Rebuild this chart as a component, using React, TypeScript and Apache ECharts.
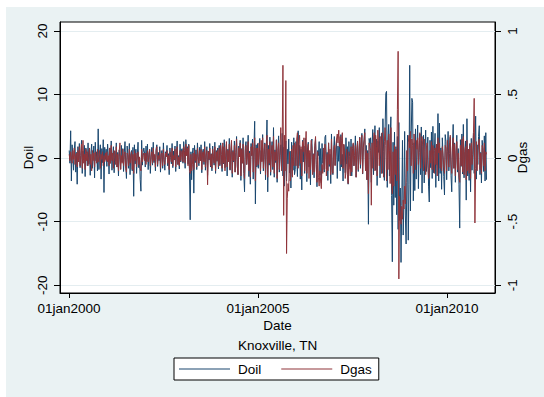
import React, { useEffect, useRef } from 'react';
import * as echarts from 'echarts';

// Weekly observations start on Monday 3 Jan 2000
const startDate = Date.UTC(2000, 0, 3);
const weekMs = 7 * 86400000;

const doil2000 = [1.2, -0.8, 4.3, -3.6, 2.1, 0.5, -1.9, 1.4, 2.6, -2.2, 0.9, -4.1, 1.8, -0.6, 2.3, -1.5, 0.4, 2.8, -2.4, 1.1, -0.3, 2.0, -2.9, 1.6, 0.7, -1.2, 2.4, -0.9, 1.3, -2.7, 0.8, 2.2, -1.6, 0.3, 1.9, -3.1, 2.5, -0.4, 1.0, -2.0, 4.6, -1.8, 0.6, 2.1, -3.3, 1.5, -0.7, 2.9, -5.4, 1.7, -0.2, 1.4];
const doil2001 = [-1.3, 2.2, 0.4, -2.5, 1.6, -0.8, 2.7, -1.9, 0.3, 1.8, -2.3, 1.1, -0.5, 2.4, -1.4, 0.9, -2.8, 1.3, 0.2, -1.7, 2.0, -0.6, 1.5, -2.1, 0.8, 2.6, -1.0, -3.2, 1.9, 0.5, -1.6, 2.3, -2.6, 0.7, 1.2, -2.0, 1.7, -6.0, 2.1, -0.9, 1.4, -2.4, 0.6, 2.5, -1.5, 0.1, -3.4, -5.2, 2.8, -1.1, 0.9, 1.6];
const doil2002 = [0.8, -1.4, 1.9, -0.5, 2.2, -1.8, 0.6, 1.3, -2.4, 0.2, 1.7, -1.1, 2.5, -0.7, 0.4, -2.0, 1.5, 2.1, -1.3, 0.9, -0.4, 1.8, -2.2, 0.5, 1.2, -1.6, 2.4, -0.2, -1.9, 1.0, 0.3, 2.0, -1.2, 0.7, -2.6, 1.6, 0.1, -0.9, 2.3, -1.5, 1.1, -0.3, 1.9, -2.1, 0.6, 2.7, -1.0, 0.4, -1.7, 2.2, -0.6, 1.4];
const doil2003 = [1.5, -0.8, 2.6, 1.2, -1.6, 2.9, 0.4, 1.8, -0.9, 2.2, -2.1, -9.7, 1.0, -3.4, 0.8, 1.6, -5.5, 2.0, -0.7, 1.3, -1.8, 2.4, 0.2, -1.2, 1.7, -0.4, 2.1, -2.3, 0.9, 1.4, -1.0, 2.6, -1.9, 0.5, 1.8, -2.7, 1.1, -0.3, 2.3, -1.4, 0.7, -2.0, 1.9, 0.3, -1.1, 2.5, -2.4, 1.2, -0.5, 1.6, -1.7, 2.0];
const doil2004 = [-1.2, 2.4, 0.6, -2.1, 1.8, -0.9, 2.9, -1.5, 0.3, 2.2, -2.8, 1.4, -0.4, 3.1, -1.9, 0.8, 2.5, -3.0, 1.2, -0.6, 2.7, -2.2, 0.9, 3.4, -1.3, -2.6, 1.9, 0.2, 2.8, -3.5, 1.5, -0.8, 3.2, -2.4, -5.3, 1.7, 2.6, -1.0, 0.5, 3.6, -2.9, 1.1, -4.1, 2.3, 0.4, 3.0, -3.3, 1.8, 5.8, -7.2, 2.1, -1.4];
const doil2005 = [2.3, -1.6, 0.8, 3.1, -2.5, 1.2, -0.4, 3.7, -2.0, 0.6, 2.4, -3.4, 1.5, 6.0, -5.3, 2.0, -1.1, 3.3, -2.7, 0.9, 2.6, -1.8, 4.8, -3.0, 1.3, -0.7, 2.9, -3.8, 1.0, 3.5, -2.2, 0.4, 2.1, -1.5, 3.9, -2.8, 1.7, -4.4, 0.6, 2.7, -3.6, 1.4, -0.9, 3.0, -2.3, 1.1, -4.7, 2.5, 0.3, -1.9, 3.2, -2.6];
const doil2006 = [-1.8, 2.6, 0.5, -2.9, 4.3, -1.2, 2.0, -3.3, 1.4, -5.0, 2.8, -0.6, 1.9, -2.4, 3.1, 0.2, -3.7, 1.6, 2.5, -1.4, 0.8, -4.2, 2.2, 3.0, -2.0, 0.7, -3.1, 1.8, 2.9, -1.0, -4.5, 1.2, 0.4, 2.6, -2.7, 1.5, -3.9, 2.3, -0.8, 1.1, -2.2, 3.3, 3.6, -1.7, 0.9, -3.5, 2.4, -1.3, 0.6, -4.0, 3.8, -2.1];
const doil2007 = [-2.6, 1.3, 3.4, -1.1, 0.7, 2.8, -3.2, 1.9, -0.5, 2.5, -2.0, 3.7, -1.4, 0.6, -3.6, 2.1, 1.0, -2.3, 3.2, -0.9, 1.8, -4.1, 2.6, 0.3, -1.7, 3.0, -2.8, 1.5, 2.2, -1.2, 0.4, 3.5, -3.0, 1.1, 2.7, -2.1, 0.8, 3.3, -1.6, 2.4, 3.9, -2.5, 1.7, 2.9, 4.6, -1.9, 2.0, -3.4, 1.2, -10.4, 3.1, 2.3];
const doil2008 = [3.2, -3.8, 2.1, 4.5, -2.6, 1.4, 5.1, -1.9, 3.0, -4.3, 2.7, 0.9, 4.8, -3.1, 1.6, 3.9, -2.4, 6.2, 1.1, -3.5, 4.4, 10.2, 10.5, -4.6, 2.9, 5.3, -2.8, 3.6, 6.5, -5.9, -16.3, 2.5, -7.4, 4.1, -6.2, 1.8, -8.9, 3.4, -11.2, 5.6, -9.8, -4.7, -16.4, -7.5, 2.8, -12.1, -6.3, 4.2, -9.1, -13.5, -3.8, 3.6];
const doil2009 = [-12.9, -4.2, 14.6, -8.3, 3.1, 9.4, 8.8, -6.7, 2.4, -5.1, 4.6, -3.3, 1.7, 5.2, -4.8, 0.9, 3.8, -2.6, 4.9, -5.5, 2.2, 3.6, -3.9, 1.3, 4.4, -2.1, 0.6, 3.3, -4.4, -6.9, 2.8, -1.5, 4.1, -3.2, 5.0, -2.3, 1.2, 3.9, -4.6, 2.0, -1.1, 7.0, -3.6, 5.5, -2.4, 1.6, -4.9, 3.2, 0.5, -2.9, -5.8, 3.7];
const doil2010 = [2.6, -3.4, 1.1, 4.2, -2.0, 0.7, 3.3, -2.7, -5.3, 1.9, 5.3, -1.6, 2.4, -3.8, 0.8, 3.6, -2.2, 1.5, -4.1, -11.0, 2.9, -1.3, 3.8, -2.5, 5.3, -3.1, 1.0, 2.7, -6.6, 6.2, -2.8, 1.4, -3.5, 2.3, -5.3, 3.1, -1.9, 0.6, 4.0, -2.4, 1.7, 6.6, -3.3, 2.1, -1.0, 3.4, 5.1, -2.6, 0.9, -3.9, 2.8, 1.2, -2.1, 3.5, -3.6, 4.0, -3.4];

const dgas2000 = [0.03, -0.02, 0.05, 0.01, -0.04, 0.06, -0.01, 0.08, -0.05, 0.02, 0.04, -0.07, 0.06, -0.03, 0.09, -0.06, 0.02, 0.11, -0.08, 0.14, -0.04, 0.03, -0.09, 0.07, -0.02, 0.05, -0.06, 0.01, 0.08, -0.05, 0.03, -0.1, 0.06, -0.02, 0.04, -0.07, 0.05, 0.02, -0.04, 0.07, -0.03, 0.01, 0.06, -0.08, 0.03, -0.01, 0.05, -0.06, 0.02, -0.03, 0.04, -0.02];
const dgas2001 = [0.05, -0.03, 0.02, -0.06, 0.08, -0.04, 0.1, -0.02, 0.04, -0.08, 0.06, 0.01, -0.05, 0.09, -0.07, 0.03, -0.1, 0.05, 0.12, -0.09, 0.02, -0.04, 0.07, -0.06, 0.03, 0.05, -0.08, -0.11, 0.04, 0.02, -0.06, 0.07, -0.04, 0.01, 0.05, -0.09, 0.03, -0.12, 0.06, -0.02, 0.04, -0.07, 0.02, 0.05, -0.05, 0.01, -0.08, -0.1, 0.07, -0.03, 0.02, 0.04];
const dgas2002 = [-0.02, 0.04, -0.05, 0.03, 0.06, -0.03, 0.02, 0.07, -0.06, 0.01, 0.05, -0.04, 0.08, -0.02, 0.03, -0.07, 0.06, 0.09, -0.05, 0.02, -0.01, 0.06, -0.08, 0.03, 0.04, -0.06, 0.07, -0.02, -0.05, 0.04, 0.01, 0.06, -0.04, 0.02, -0.09, 0.05, 0.03, -0.03, 0.08, -0.06, 0.02, -0.01, 0.07, -0.07, 0.04, 0.09, -0.05, 0.01, -0.06, 0.06, -0.02, 0.03];
const dgas2003 = [0.06, -0.03, 0.09, 0.05, -0.04, 0.11, 0.02, 0.08, -0.06, 0.1, -0.08, -0.12, 0.03, -0.1, -0.05, 0.04, -0.09, 0.06, -0.02, 0.03, -0.07, 0.08, 0.01, -0.04, 0.06, -0.02, 0.07, -0.09, 0.04, 0.05, -0.03, 0.09, -0.07, 0.02, 0.06, -0.21, 0.05, -0.01, 0.08, -0.06, 0.03, -0.08, 0.07, 0.01, -0.04, 0.09, -0.1, 0.05, -0.02, 0.06, -0.07, 0.08];
const dgas2004 = [-0.05, 0.1, 0.03, -0.08, 0.12, -0.04, 0.09, -0.1, 0.02, 0.13, -0.07, 0.06, -0.03, 0.11, -0.09, 0.04, 0.14, -0.12, 0.05, -0.02, 0.1, -0.11, 0.03, 0.15, -0.06, -0.13, 0.08, 0.01, 0.12, -0.14, 0.07, -0.04, 0.11, -0.09, -0.16, 0.06, 0.1, -0.05, 0.02, 0.13, -0.1, 0.04, -0.15, 0.09, 0.02, 0.12, -0.11, 0.07, 0.16, -0.18, 0.08, -0.06];
const dgas2005 = [0.08, -0.05, 0.12, 0.04, -0.1, 0.14, -0.03, 0.16, -0.08, 0.06, 0.11, -0.13, 0.09, 0.18, -0.15, 0.07, -0.04, 0.13, -0.11, 0.03, 0.1, -0.07, 0.17, -0.12, 0.05, -0.02, 0.14, -0.16, 0.06, 0.12, -0.09, 0.08, 0.24, -0.1, 0.15, 0.73, -0.45, 0.18, -0.1, 0.61, -0.75, -0.32, -0.2, -0.26, 0.05, -0.18, -0.12, 0.07, -0.15, 0.1, -0.06, 0.12];
const dgas2006 = [0.1, -0.06, 0.15, 0.2, -0.08, 0.12, 0.18, -0.04, 0.09, -0.14, 0.13, 0.05, 0.16, -0.1, 0.07, 0.21, -0.12, 0.04, 0.11, -0.16, 0.06, -0.09, 0.14, 0.08, -0.13, 0.03, -0.11, 0.1, 0.17, -0.07, -0.19, 0.05, -0.15, -0.22, -0.1, -0.18, -0.24, -0.05, -0.12, 0.08, -0.09, 0.11, 0.06, -0.14, 0.03, -0.1, 0.12, -0.05, 0.07, -0.13, 0.15, -0.08];
const dgas2007 = [-0.12, 0.04, 0.1, -0.06, 0.08, 0.15, 0.19, 0.12, 0.22, 0.09, 0.17, -0.05, 0.14, 0.2, -0.08, 0.11, 0.06, -0.16, -0.1, 0.07, -0.13, -0.2, 0.05, -0.07, -0.14, 0.09, -0.11, 0.04, 0.12, -0.06, 0.02, 0.1, -0.15, 0.06, 0.13, -0.09, 0.03, 0.16, -0.05, 0.11, 0.18, -0.12, 0.08, 0.14, 0.2, -0.1, 0.06, -0.17, 0.04, -0.28, 0.12, 0.09];
const dgas2008 = [0.06, -0.37, 0.12, -0.08, 0.15, 0.2, -0.1, 0.18, 0.09, -0.14, 0.22, 0.11, -0.06, 0.16, 0.17, -0.12, 0.2, 0.08, -0.15, 0.13, 0.24, 0.1, -0.18, 0.14, -0.09, 0.19, 0.06, -0.2, 0.24, -0.16, -0.28, 0.05, -0.22, 0.1, -0.13, 0.07, -0.18, 0.38, 0.84, -0.95, -0.3, -0.45, -0.52, -0.38, -0.48, -0.33, -0.4, -0.22, -0.36, -0.15, 0.06, -0.1];
const dgas2009 = [0.12, 0.18, 0.08, 0.21, -0.06, 0.15, 0.1, -0.12, 0.19, 0.04, -0.09, 0.14, 0.07, 0.16, -0.05, 0.11, 0.2, -0.08, 0.13, 0.17, 0.09, -0.1, 0.15, 0.05, -0.13, 0.08, 0.12, -0.07, -0.16, -0.11, 0.06, -0.04, 0.13, -0.09, 0.1, 0.03, -0.12, 0.08, -0.05, 0.11, -0.14, 0.16, 0.04, 0.12, -0.08, 0.06, -0.1, 0.09, 0.02, -0.06, -0.12, 0.1];
const dgas2010 = [0.08, -0.1, 0.14, 0.05, -0.07, 0.12, 0.18, -0.05, -0.12, 0.09, 0.16, -0.08, 0.11, -0.14, 0.06, 0.13, -0.09, 0.04, -0.15, -0.19, 0.1, -0.06, 0.15, -0.11, 0.17, -0.13, 0.05, 0.09, -0.17, 0.14, -0.1, 0.07, -0.12, 0.1, -0.16, 0.12, -0.05, 0.03, 0.2, 0.47, -0.51, -0.08, 0.13, -0.1, 0.06, 0.11, 0.15, -0.09, 0.04, -0.12, 0.1, 0.07, -0.06, 0.12, -0.1, 0.05, 0.03];

const leftTicks = [-20, -10, 0, 10, 20];
const rightTicks = [-1, -0.5, 0, 0.5, 1];
const dateTicks = [Date.UTC(2000, 0, 1), Date.UTC(2005, 0, 1), Date.UTC(2010, 0, 1)];
const monthNames = ['jan', 'feb', 'mar', 'apr', 'may', 'jun', 'jul', 'aug', 'sep', 'oct', 'nov', 'dec'];

const doil = [
  ...doil2000, ...doil2001, ...doil2002, ...doil2003, ...doil2004, ...doil2005,
  ...doil2006, ...doil2007, ...doil2008, ...doil2009, ...doil2010,
];
const dgas = [
  ...dgas2000, ...dgas2001, ...dgas2002, ...dgas2003, ...dgas2004, ...dgas2005,
  ...dgas2006, ...dgas2007, ...dgas2008, ...dgas2009, ...dgas2010,
];
const dates = doil.map((_, i) => startDate + i * weekMs);

const FONT = '"Liberation Sans", Arial, sans-serif';

function fmtDate(v: number): string {
  const d = new Date(v);
  return String(d.getUTCDate()).padStart(2, '0') + monthNames[d.getUTCMonth()] + d.getUTCFullYear();
}
function fmtRight(v: number): string {
  if (v === 0) return '0';
  return String(v).replace(/^(-?)0\./, '$1.');
}

export default function App() {
  const ref = useRef<HTMLDivElement>(null);
  useEffect(() => {
    if (!ref.current) return;
    const chart = echarts.init(ref.current, null, { renderer: 'svg' });
    chart.setOption({
      animation: false,
      textStyle: { fontFamily: FONT },
      grid: {
        left: 60, right: 49, top: 22, bottom: 104,
        show: true, backgroundColor: '#ffffff', borderColor: '#000', borderWidth: 1,
      },
      xAxis: {
        type: 'value',
        min: Date.UTC(1999, 9, 6),
        max: Date.UTC(2011, 3, 9),
        name: 'Date',
        nameLocation: 'middle',
        nameGap: 25,
        nameMoveOverlap: false,
        nameTextStyle: { fontSize: 13.5, color: '#000', fontFamily: FONT },
        axisLine: { show: true, onZero: false, lineStyle: { color: '#000', width: 1 } },
        axisTick: { show: true, length: 5, customValues: dateTicks, lineStyle: { color: '#000' } },
        axisLabel: { customValues: dateTicks, formatter: fmtDate, margin: 8, fontSize: 13.5, color: '#000', fontFamily: FONT },
        splitLine: { show: false },
      },
      yAxis: [
        {
          type: 'value', position: 'left', min: -21.21, max: 21.41,
          name: 'Doil', nameLocation: 'middle', nameRotate: 90, nameGap: 25, nameMoveOverlap: false,
          nameTextStyle: { fontSize: 13.5, color: '#000', fontFamily: FONT },
          axisLine: { show: true, onZero: false, lineStyle: { color: '#000', width: 1 } },
          axisTick: { show: true, length: 6, customValues: leftTicks, lineStyle: { color: '#000' } },
          axisLabel: { customValues: leftTicks, rotate: 90, margin: 11, fontSize: 13.5, color: '#000', fontFamily: FONT },
          splitLine: { show: true, lineStyle: { color: '#e4edf0', width: 1 } },
        },
        {
          type: 'value', position: 'right', min: -1.0605, max: 1.0705,
          name: 'Dgas', nameLocation: 'middle', nameRotate: 90, nameGap: 20, nameMoveOverlap: false,
          nameTextStyle: { fontSize: 13.5, color: '#000', fontFamily: FONT },
          axisLine: { show: true, onZero: false, lineStyle: { color: '#000', width: 1 } },
          axisTick: { show: true, length: 6, customValues: rightTicks, lineStyle: { color: '#000' } },
          axisLabel: { customValues: rightTicks, rotate: 90, margin: 10, fontSize: 13.5, color: '#000', formatter: fmtRight, fontFamily: FONT },
          splitLine: { show: false },
        },
      ],
      legend: {
        left: 174, top: 358,
        orient: 'horizontal',
        icon: 'rect', itemWidth: 51, itemHeight: 1, itemGap: 20,
        padding: [4, 7, 4, 5],
        backgroundColor: '#fff', borderColor: '#000', borderWidth: 1, borderRadius: 0,
        textStyle: { fontSize: 13.5, color: '#000', fontFamily: FONT, padding: [0, 0, 0, 3] },
        data: ['Doil', 'Dgas'],
      },
      graphic: [
        {
          type: 'text', x: 277.7, y: 345.5,
          style: { text: 'Knoxville, TN', align: 'center', verticalAlign: 'middle', font: `13.5px ${FONT}`, fill: '#000' },
        },
      ],
      series: [
        {
          name: 'Doil', type: 'line', yAxisIndex: 0, showSymbol: false, symbol: 'none',
          data: dates.map((d, i) => [d, doil[i]]),
          lineStyle: { color: '#1a476f', width: 1 }, itemStyle: { color: '#1a476f' },
        },
        {
          name: 'Dgas', type: 'line', yAxisIndex: 1, showSymbol: false, symbol: 'none',
          data: dates.map((d, i) => [d, dgas[i]]),
          lineStyle: { color: '#90353b', width: 1 }, itemStyle: { color: '#90353b' },
        },
      ],
    });
    return () => chart.dispose();
  }, []);
  return (
    <div style={{ position: 'fixed', left: 0, top: 0, width: 544, height: 397, background: '#fff' }}>
      <div style={{ position: 'absolute', left: 6, top: 7, width: 538, height: 390, background: '#eaf2f3' }} />
      <div ref={ref} style={{ position: 'absolute', left: 0, top: 0, width: 544, height: 397 }} />
    </div>
  );
}
